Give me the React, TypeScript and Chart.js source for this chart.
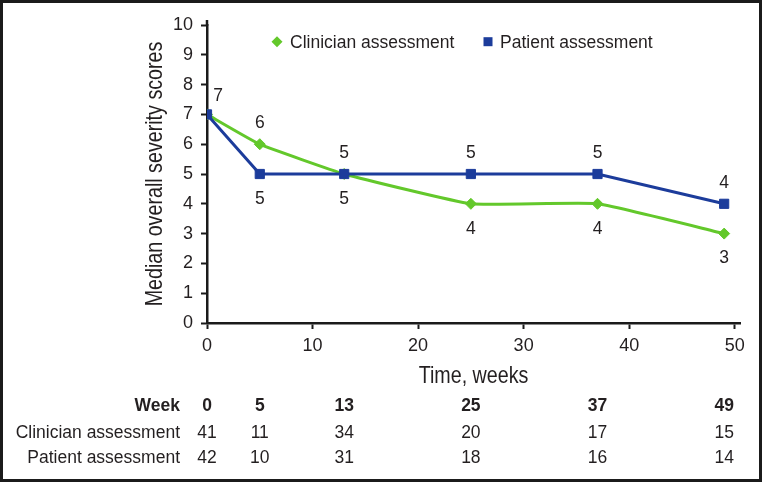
import React, { useEffect, useRef } from "react";
import { Chart, registerables } from "chart.js";

Chart.register(...registerables);

// ---- data ----
const weeks = [0, 5, 13, 25, 37, 49];
const clinicianScores = [7, 6, 5, 4, 4, 3];
const patientScores = [7, 5, 5, 5, 5, 4];
const clinicianN = [41, 11, 34, 20, 17, 15];
const patientN = [42, 10, 31, 18, 16, 14];
const xTicks = [0, 10, 20, 30, 40, 50];
const yTicks = [0, 1, 2, 3, 4, 5, 6, 7, 8, 9, 10];
const seriesNames = ["Clinician assessment", "Patient assessment"];
const tableHeader = "Week";
const xTitle = "Time, weeks";
const yTitle = "Median overall severity scores";

// ---- styles ----
const clinicianLabelPos = ["topRight", "above", "below", "below", "below", "below"];
const patientLabelPos = ["none", "below", "above", "above", "above", "above"];
const GREEN = "#63C82B";
const BLUE = "#1C3C9B";
const INK = "#231F20";
const AXIS = "#1a1a1a";
const FAMILY = "'Liberation Sans', Arial, Helvetica, sans-serif";
const SIZE = 17.5;
const TICK_SIZE = 18;

let narrowOK: boolean | null = null;
function hasNarrow(ctx: CanvasRenderingContext2D) {
  if (narrowOK !== null) return narrowOK;
  ctx.save();
  ctx.font = "24px 'Liberation Sans Narrow', monospace";
  const a = ctx.measureText("Median overall").width;
  ctx.font = "24px monospace";
  const b = ctx.measureText("Median overall").width;
  ctx.restore();
  narrowOK = Math.abs(a - b) > 0.5;
  return narrowOK;
}

function drawCondensed(ctx: CanvasRenderingContext2D, text: string, x: number, y: number, size: number) {
  ctx.save();
  ctx.translate(x, y);
  if (hasNarrow(ctx)) {
    ctx.font = `${size}px 'Liberation Sans Narrow', ${FAMILY}`;
  } else {
    ctx.scale(0.82, 1);
    ctx.font = `${size}px ${FAMILY}`;
  }
  ctx.fillText(text, 0, 0);
  ctx.restore();
}

const decorPlugin = {
  id: "decor",
  afterDatasetsDraw(chart: any) {
    const ctx: CanvasRenderingContext2D = chart.ctx;
    const xs = chart.scales.x;
    const area = chart.chartArea;
    ctx.save();

    // small extension of the y axis line above the top tick
    ctx.strokeStyle = AXIS;
    ctx.lineWidth = 2.5;
    ctx.beginPath();
    ctx.moveTo(area.left, area.top + 1);
    ctx.lineTo(area.left, area.top - 5);
    ctx.stroke();

    ctx.fillStyle = INK;

    // data labels
    ctx.font = `${SIZE}px ${FAMILY}`;
    ctx.textAlign = "center";
    ctx.textBaseline = "middle";
    const sets = [
      { idx: 0, values: clinicianScores, pos: clinicianLabelPos },
      { idx: 1, values: patientScores, pos: patientLabelPos },
    ];
    sets.forEach((s) => {
      const meta = chart.getDatasetMeta(s.idx);
      meta.data.forEach((el: any, i: number) => {
        const p = s.pos[i];
        if (p === "none") return;
        let x = el.x;
        let y = el.y;
        if (p === "above") y -= 21;
        else if (p === "below") y += 25;
        else if (p === "topRight") {
          x += 11;
          y -= 18;
        }
        ctx.fillText(String(s.values[i]), x, y);
      });
    });

    // legend
    ctx.textAlign = "left";
    ctx.textBaseline = "alphabetic";
    const ly = 41.7;
    ctx.fillStyle = GREEN;
    ctx.beginPath();
    ctx.moveTo(277 - 5.5, ly);
    ctx.lineTo(277, ly - 5.5);
    ctx.lineTo(277 + 5.5, ly);
    ctx.lineTo(277, ly + 5.5);
    ctx.closePath();
    ctx.fill();
    ctx.fillStyle = BLUE;
    ctx.fillRect(488 - 4.5, ly - 4.5, 9, 9);
    ctx.fillStyle = INK;
    ctx.font = `${SIZE}px ${FAMILY}`;
    ctx.fillText(seriesNames[0], 290, ly + 6.2);
    ctx.fillText(seriesNames[1], 500, ly + 6.2);

    // axis titles
    ctx.textAlign = "center";
    drawCondensed(ctx, xTitle, (area.left + area.right) / 2, 383.3, 24);
    ctx.save();
    ctx.translate(162, (area.top + area.bottom) / 2);
    ctx.rotate(-Math.PI / 2);
    drawCondensed(ctx, yTitle, 0, 0, 24);
    ctx.restore();

    // table
    const rows = [
      { label: tableHeader, vals: weeks, bold: true, base: 411.2 },
      { label: seriesNames[0], vals: clinicianN, bold: false, base: 438 },
      { label: seriesNames[1], vals: patientN, bold: false, base: 463 },
    ];
    rows.forEach((r) => {
      ctx.font = `${r.bold ? "bold " : ""}${SIZE}px ${FAMILY}`;
      ctx.textAlign = "right";
      ctx.fillText(r.label, 180, r.base);
      ctx.textAlign = "center";
      r.vals.forEach((v, i) => {
        ctx.fillText(String(v), xs.getPixelForValue(weeks[i]), r.base);
      });
    });
    ctx.restore();
  },
};

export default function App() {
  const ref = useRef<HTMLCanvasElement>(null);
  useEffect(() => {
    const tickFont = { family: FAMILY, size: TICK_SIZE };
    const chart = new Chart(ref.current as HTMLCanvasElement, {
      type: "line",
      data: {
        datasets: [
          {
            label: seriesNames[0],
            data: weeks.map((w, i) => ({ x: w, y: clinicianScores[i] })),
            borderColor: GREEN,
            backgroundColor: GREEN,
            borderWidth: 3,
            tension: 0.12,
            pointStyle: "rectRot",
            pointRadius: 5.5,
            pointBorderWidth: 1,
            pointBorderColor: GREEN,
            pointBackgroundColor: GREEN,
            order: 1,
          },
          {
            label: seriesNames[1],
            data: weeks.map((w, i) => ({ x: w, y: patientScores[i] })),
            borderColor: BLUE,
            backgroundColor: BLUE,
            borderWidth: 3,
            tension: 0,
            pointStyle: "rect",
            pointRadius: 6.5,
            pointBorderWidth: 1,
            pointBorderColor: BLUE,
            pointBackgroundColor: BLUE,
            order: 0,
          },
        ],
      } as any,
      options: {
        animation: false,
        responsive: false,
        maintainAspectRatio: false,
        events: [],
        layout: { padding: { left: 147, right: 22, top: 25, bottom: 119 } },
        plugins: {
          legend: { display: false },
          tooltip: { enabled: false },
          title: { display: false },
        },
        scales: {
          x: {
            type: "linear",
            min: 0,
            max: 50.5,
            afterBuildTicks: (s: any) => {
              s.ticks = xTicks.map((v) => ({ value: v }));
            },
            afterFit: (s: any) => {
              s.height = 40;
            },
            grid: {
              drawOnChartArea: false,
              drawTicks: true,
              tickLength: 6,
              tickWidth: 2,
              tickColor: AXIS,
            },
            border: { color: AXIS, width: 2.5 },
            ticks: { padding: 6.5, color: INK, font: tickFont, maxRotation: 0, autoSkip: false },
          },
          y: {
            type: "linear",
            min: 0,
            max: 10,
            afterBuildTicks: (s: any) => {
              s.ticks = yTicks.map((v) => ({ value: v }));
            },
            afterFit: (s: any) => {
              s.width = 60;
            },
            grid: {
              drawOnChartArea: false,
              drawTicks: true,
              tickLength: 6,
              tickWidth: 2,
              tickColor: AXIS,
            },
            border: { color: AXIS, width: 2.5 },
            ticks: { padding: 8, color: INK, font: tickFont, autoSkip: false },
          },
        },
      } as any,
      plugins: [decorPlugin],
    });
    return () => chart.destroy();
  }, []);

  return (
    <div style={{ position: "fixed", left: 0, top: 0, width: 762, height: 482, background: "#fff" }}>
      <canvas
        ref={ref}
        width={762}
        height={482}
        style={{ position: "absolute", left: 0, top: 0, width: 762, height: 482 }}
      />
      <div
        style={{
          position: "absolute",
          left: 0,
          top: 0,
          width: 762,
          height: 482,
          border: "3px solid #1b1b1b",
          boxSizing: "border-box",
          pointerEvents: "none",
        }}
      />
    </div>
  );
}
